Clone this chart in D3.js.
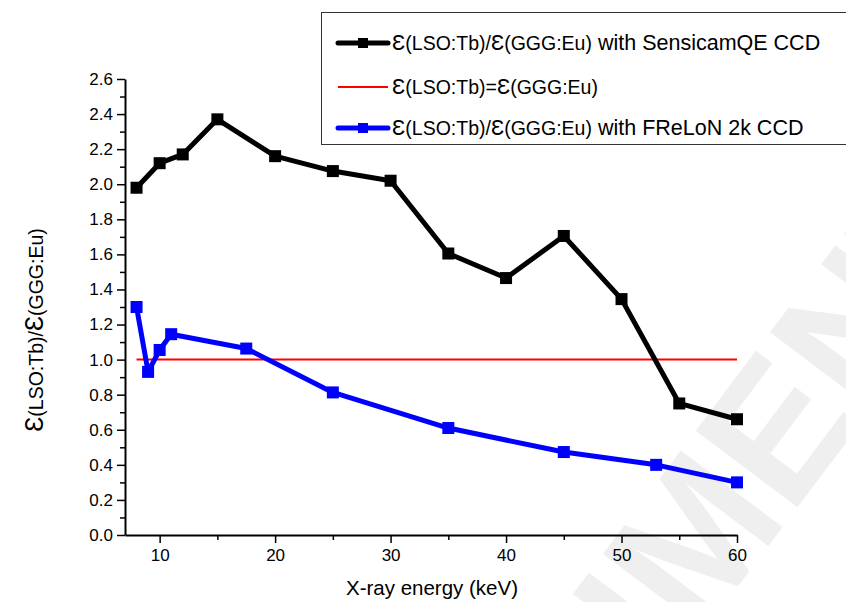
<!DOCTYPE html>
<html>
<head>
<meta charset="utf-8">
<script src="https://cdn.jsdelivr.net/npm/d3@7"></script>
<style>
  body { margin: 0; background: #fff; }
  text { font-family: "Liberation Sans", Arial, sans-serif; }
</style>
</head>
<body>
<div id="chart"></div>
<script>
// data
const sensicamEnergy = [8, 10, 12, 15, 20, 25, 30, 35, 40, 45, 50, 55, 60]
const sensicamRatio = [1.98, 2.12, 2.17, 2.37, 2.16, 2.075, 2.02, 1.605, 1.465, 1.705, 1.345, 0.75, 0.66]
const frelonEnergy = [8, 9, 10, 11, 17.5, 25, 35, 45, 53, 60]
const frelonRatio = [1.30, 0.93, 1.055, 1.145, 1.063, 0.813, 0.61, 0.473, 0.40, 0.30]
const equalLine = [8, 60]
const xTicks = [10, 20, 30, 40, 50, 60]
const yTicks = [0, 0.2, 0.4, 0.6, 0.8, 1.0, 1.2, 1.4, 1.6, 1.8, 2.0, 2.2, 2.4, 2.6]

const width = 846, height = 602

const svg = d3.select('#chart').append('svg')
    .attr('width', width)
    .attr('height', height)

// faint watermark behind everything
svg.append('text')
    .attr('transform', 'translate(640,610) rotate(-53)')
    .attr('text-anchor', 'middle')
    .attr('dominant-baseline', 'central')
    .style('font-size', '185px')
    .style('font-weight', 'bold')
    .style('fill', '#efefef')
    .text('DOCUMENT')

const x = d3.scaleLinear().domain([7, 60]).range([125, 737])
const y = d3.scaleLinear().domain([0, 2.6]).range([535, 79])

// axes: major ticks with labels, minor ticks without
const minorX = d3.range(15, 60, 10)
const minorY = d3.range(0.1, 2.6, 0.2)

const gx = svg.append('g').attr('transform', `translate(0,${y(0)})`)
gx.call(d3.axisBottom(x).tickValues(xTicks).tickSizeInner(8).tickSizeOuter(0).tickPadding(6).tickFormat(d3.format('d')))
gx.append('g').call(d3.axisBottom(x).tickValues(minorX).tickSize(5).tickFormat(''))
    .select('.domain').remove()

const gy = svg.append('g').attr('transform', `translate(${x(7)},0)`)
gy.call(d3.axisLeft(y).tickValues(yTicks).tickSizeInner(8).tickSizeOuter(0).tickPadding(4).tickFormat(d3.format('.1f')))
gy.append('g').call(d3.axisLeft(y).tickValues(minorY).tickSize(5).tickFormat(''))
    .select('.domain').remove()

svg.selectAll('.domain').attr('stroke', '#000').attr('stroke-width', 2)
svg.selectAll('.tick line').attr('stroke', '#000').attr('stroke-width', 1.5)
svg.selectAll('.tick text').style('font-size', '17px').style('font-family', '"Liberation Sans", Arial, sans-serif').attr('fill', '#000')

// axis titles
svg.append('text')
    .attr('x', 432).attr('y', 595)
    .attr('text-anchor', 'middle')
    .style('font-size', '20.5px')
    .text('X-ray energy (keV)')

const ylab = svg.append('text')
    .attr('transform', 'translate(43,330) rotate(-90)')
    .attr('text-anchor', 'middle')
    .style('font-size', '19.5px')
ylab.append('tspan').style('font-size', '25px').text('Ɛ')
ylab.append('tspan').text('(LSO:Tb)/')
ylab.append('tspan').style('font-size', '25px').text('Ɛ')
ylab.append('tspan').text('(GGG:Eu)')

// series
const line = d3.line().x(d => x(d[0])).y(d => y(d[1]))

svg.append('path')
    .datum(equalLine.map(e => [e, 1]))
    .attr('d', line)
    .attr('fill', 'none')
    .attr('stroke', '#ff0000')
    .attr('stroke-width', 2)

function drawSeries(xs, ys, color) {
    const pts = xs.map((e, i) => [e, ys[i]])
    svg.append('path')
        .datum(pts)
        .attr('d', line)
        .attr('fill', 'none')
        .attr('stroke', color)
        .attr('stroke-width', 5)
        .attr('stroke-linejoin', 'round')
    svg.selectAll(null)
        .data(pts)
        .enter()
        .append('rect')
        .attr('x', d => x(d[0]) - 6)
        .attr('y', d => y(d[1]) - 6)
        .attr('width', 12)
        .attr('height', 12)
        .attr('fill', color)
}
drawSeries(frelonEnergy, frelonRatio, '#0000ff')
drawSeries(sensicamEnergy, sensicamRatio, '#000000')

// legend
const legend = svg.append('g')
legend.append('rect')
    .attr('x', 321.5).attr('y', 12.5)
    .attr('width', 540).attr('height', 132)
    .attr('fill', '#fff')
    .attr('stroke', '#333')
    .attr('stroke-width', 1)

const legendRows = [
    { color: '#000', marker: true, parts: ['Ɛ', '(LSO:Tb)/', 'Ɛ', '(GGG:Eu)', ' with SensicamQE CCD'], y: 43 },
    { color: '#ff0000', marker: false, parts: ['Ɛ', '(LSO:Tb)=', 'Ɛ', '(GGG:Eu)'], y: 87 },
    { color: '#0000ff', marker: true, parts: ['Ɛ', '(LSO:Tb)/', 'Ɛ', '(GGG:Eu)', ' with FReLoN 2k CCD'], y: 128 }
]
legendRows.forEach(r => {
    legend.append('line')
        .attr('x1', 338).attr('x2', 388)
        .attr('y1', r.y).attr('y2', r.y)
        .attr('stroke', r.color)
        .attr('stroke-width', r.marker ? 5 : 2)
        .attr('stroke-linecap', r.marker ? 'round' : 'butt')
    if (r.marker) {
        legend.append('rect')
            .attr('x', 358).attr('y', r.y - 5)
            .attr('width', 10).attr('height', 10)
            .attr('fill', r.color)
    }
    const t = legend.append('text')
        .attr('x', 392).attr('y', r.y + 7)
        .style('font-size', '21.5px')
    r.parts.forEach((p, i) => {
        const ts = t.append('tspan').text(p)
        if (p === 'Ɛ') ts.style('font-size', '22px')
        else if (i < 4) ts.style('font-size', '19.5px')
    })
})
</script>
</body>
</html>
